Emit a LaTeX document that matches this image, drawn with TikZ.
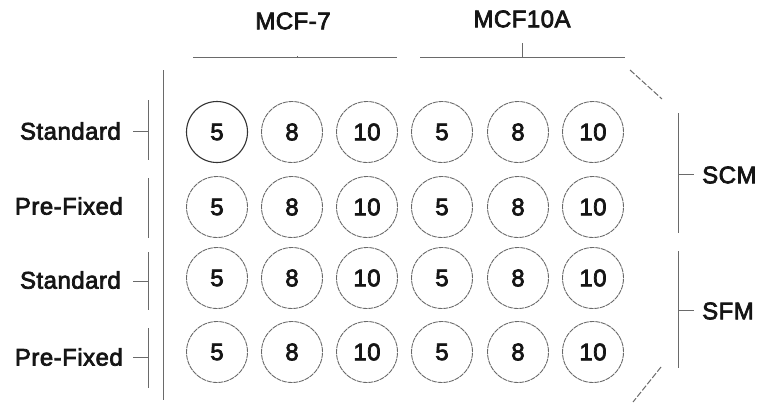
\documentclass[tikz,border=0pt]{standalone}
\usepackage{fontspec}
\setmainfont[FakeBold=3,LetterSpace=2]{Liberation Sans}
\definecolor{lncol}{HTML}{6A6A6A}
\definecolor{txtcol}{HTML}{151515}
\begin{document}
\begin{tikzpicture}[x=1pt,y=-1pt,
  well/.style={circle,draw=lncol,line width=0.9pt,dash pattern=on 5pt off 0.8pt,minimum size=61pt,inner sep=0pt,font=\fontsize{24}{24}\selectfont,text=txtcol},
  wellsolid/.style={well,solid,draw=black!80,line width=1.1pt},
  lbl/.style={font=\fontsize{24}{24}\selectfont,text=txtcol,inner sep=0pt},
  brk/.style={draw=lncol,line width=1pt},
  diag/.style={draw=lncol,line width=1pt,dash pattern=on 6pt off 2pt}]
\useasboundingbox (0,0) rectangle (765,402);
% wells
\foreach \r/\y in {1/132,2/207,3/278,4/352}{
  \foreach \c/\x/\t in {1/217/5,2/292/8,3/367/10,4/442/5,5/518/8,6/593/10}{
    \ifnum\r\c=11
      \node[wellsolid] (c\r\c) at (\x,\y) {\t};
    \else
      \node[well] (c\r\c) at (\x,\y) {\t};
    \fi
  }
}
% top labels
\node[lbl] (mcf7) at (293,21) {MCF-7};
\node[lbl] (mcf10) at (522,19) {MCF10A};
\coordinate (t1a) at (193,57); \coordinate (t1b) at (397,57); \coordinate (t1m) at (297,57);
\coordinate (t2a) at (420,57); \coordinate (t2b) at (625,57); \coordinate (t2m) at (522,57);
\draw[brk] (t1a) -- (t1b);
\draw[brk] (t1m) -- ++(0,-1.5);
\draw[brk] (t2a) -- (t2b);
\draw[brk] (t2m) -- ++(0,-14);
% left vertical line
\coordinate (lvA) at (163,70); \coordinate (lvB) at (163,400);
\draw[brk] (lvA) -- (lvB);
% left labels
\node[lbl,anchor=east] (s1) at (121,131) {Standard};
\node[lbl,anchor=east] (p1) at (123,206) {Pre-Fixed};
\node[lbl,anchor=east] (s2) at (121,280) {Standard};
\node[lbl,anchor=east] (p2) at (123,357) {Pre-Fixed};
\draw[brk] (148,100) -- (148,160);
\draw[brk] (133,131) -- (148,131);
\draw[brk] (148,178) -- (148,238);
\draw[brk] (148,252) -- (148,310);
\draw[brk] (133,281) -- (148,281);
\draw[brk] (148,328) -- (148,388);
\draw[brk] (133,357) -- (148,357);
% right labels
\node[lbl,anchor=west] (scm) at (702,175) {SCM};
\node[lbl,anchor=west] (sfm) at (702,311) {SFM};
\draw[brk] (678,113) -- (678,233);
\draw[brk] (678,174) -- (694,174);
\draw[brk] (678,251) -- (678,368);
\draw[brk] (678,310) -- (694,310);
% diagonal corners
\draw[diag] (630,70) -- (662,99);
\draw[diag] (661,367) -- (633,402);
\end{tikzpicture}
\end{document}
